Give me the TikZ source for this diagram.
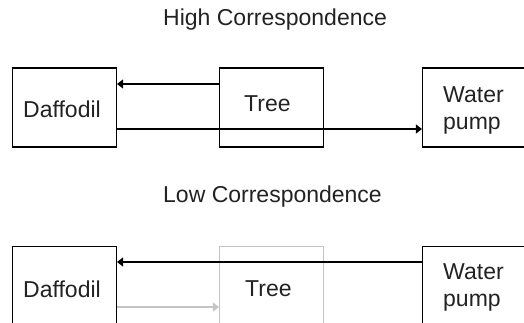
\documentclass[tikz,border=0pt]{standalone}
\usepackage{fontspec}
\setmainfont{Liberation Sans}
\usetikzlibrary{arrows.meta}
\definecolor{fadeline}{HTML}{C4C4C4}
\definecolor{inkgray}{HTML}{222222}
\tikzset{
  box/.style={draw=black, line width=1.1pt, minimum width=104pt, minimum height=79pt, inner sep=0pt},
  fadebox/.style={box, draw=fadeline},
  txt/.style={font=\fontsize{23}{27}\selectfont, text=inkgray, inner sep=0pt, anchor=base west},
  conn/.style={line width=1.2pt, -{Triangle[length=6pt,width=9pt]}},
  fadeconn/.style={conn, draw=fadeline, -{Triangle[length=6pt,width=9pt,fill=fadeline]}}
}
\begin{document}
\begin{tikzpicture}[x=1pt,y=-1pt]
\useasboundingbox (0,0) rectangle (524,323);
\clip (0,0) rectangle (524,323);
% titles
\node[txt] (hi) at (163,26) {High Correspondence};
\node[txt] (lo) at (163,202) {Low Correspondence};
% top row
\node[box] (d1) at (64.5,107.5) {};
\node[box] (t1) at (271.5,107.5) {};
\node[box] (w1) at (474.5,107.5) {};
\node[txt] (d1t) at (23,118) {Daffodil};
\node[txt] (t1t) at (244,112) {Tree};
\node[txt] (w1a) at (443,103) {Water};
\node[txt] (w1b) at (443,130) {pump};
\draw[conn] (t1.west |- 0,84) -- (d1.east |- 0,84);
\draw[conn] (d1.east |- 0,129) -- (w1.west |- 0,129);
% bottom row
\node[box] (d2) at (64.5,286) {};
\node[fadebox] (t2) at (271.5,286) {};
\node[box] (w2) at (474.5,286) {};
\node[txt] (d2t) at (23,297) {Daffodil};
\node[txt] (t2t) at (245,296) {Tree};
\node[txt] (w2a) at (443,279) {Water};
\node[txt] (w2b) at (443,306) {pump};
\draw[conn] (w2.west |- 0,262) -- (d2.east |- 0,262);
\draw[fadeconn] (d2.east |- 0,307) -- (t2.west |- 0,307);
\end{tikzpicture}
\end{document}
